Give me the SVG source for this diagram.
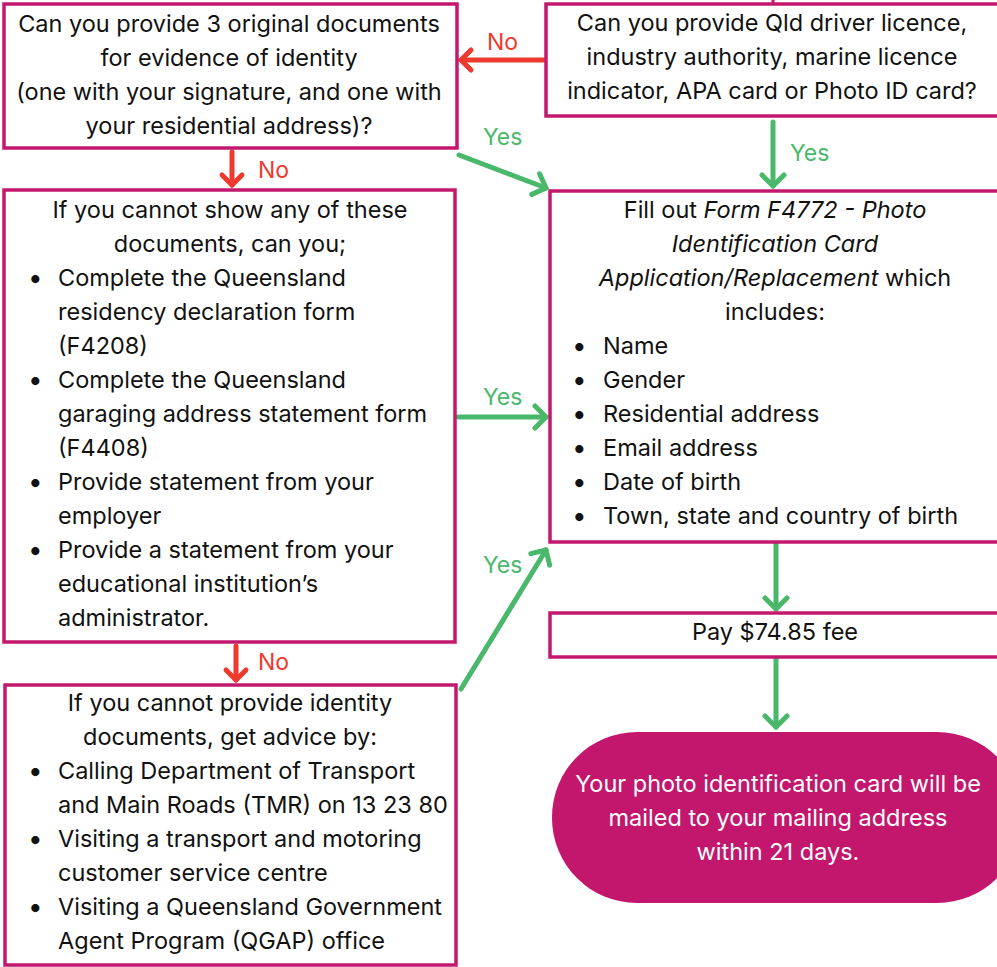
<svg xmlns="http://www.w3.org/2000/svg" width="997" height="967" viewBox="0 0 997 967">
<defs>
<style>
.box{fill:#fff;stroke:#C2186E;stroke-width:3.5}
.t{font-family:Inter,"Liberation Sans",sans-serif;font-size:23.5px;fill:#111}
.c{text-anchor:middle}
.w{fill:#fff}
.b{font-size:26px}
.no{font-family:Inter,"Liberation Sans",sans-serif;font-size:23px;fill:#EE3A2E}
.yes{font-family:Inter,"Liberation Sans",sans-serif;font-size:23px;fill:#49B86A}
.r{stroke:#EE3A2E;stroke-width:5;fill:none;stroke-linecap:round;stroke-linejoin:round}
.g{stroke:#49B86A;stroke-width:5;fill:none;stroke-linecap:round;stroke-linejoin:round}
.i{font-style:italic}
</style>
<marker id="hr" markerUnits="userSpaceOnUse" viewBox="-14 -14 28 28" markerWidth="28" markerHeight="28" refX="0" refY="0" orient="auto"><path d="M-10,-10 L0,0 L-10,10" fill="none" stroke="#EE3A2E" stroke-width="5" stroke-linecap="round" stroke-linejoin="round"/></marker>
<marker id="hg" markerUnits="userSpaceOnUse" viewBox="-14 -14 28 28" markerWidth="28" markerHeight="28" refX="0" refY="0" orient="auto"><path d="M-11,-11 L0,0 L-11,11" fill="none" stroke="#49B86A" stroke-width="5" stroke-linecap="round" stroke-linejoin="round"/></marker>
</defs>
<rect width="997" height="967" fill="#fff"/>
<line x1="773" y1="0" x2="773" y2="4" stroke="#C2186E" stroke-width="3"/>

<g id="connectors">
<line class="r" x1="545" y1="60" x2="461" y2="60" marker-end="url(#hr)"/>
<line class="r" x1="232" y1="152" x2="232" y2="185" marker-end="url(#hr)"/>
<line class="r" x1="236" y1="646" x2="236" y2="680" marker-end="url(#hr)"/>
<line class="g" x1="459" y1="155" x2="546" y2="188" marker-end="url(#hg)"/>
<line class="g" x1="773" y1="122" x2="773" y2="186" marker-end="url(#hg)"/>
<line class="g" x1="458" y1="417" x2="546" y2="417" marker-end="url(#hg)"/>
<line class="g" x1="461" y1="689" x2="546" y2="550" marker-end="url(#hg)"/>
<line class="g" x1="776" y1="544" x2="776" y2="609" marker-end="url(#hg)"/>
<line class="g" x1="776" y1="659" x2="776" y2="727" marker-end="url(#hg)"/>
<text class="no" x="487" y="50">No</text>
<text class="no" x="258" y="178">No</text>
<text class="no" x="258" y="670">No</text>
<text class="yes" x="483" y="145">Yes</text>
<text class="yes" x="790" y="161">Yes</text>
<text class="yes" x="483" y="405">Yes</text>
<text class="yes" x="483" y="573">Yes</text>
</g>

<g id="q-documents">
<rect class="box" x="4" y="4" width="453" height="144"/>
<text class="t c" x="229" y="32">Can you provide 3 original documents</text>
<text class="t c" x="229" y="66">for evidence of identity</text>
<text class="t c" x="229" y="100">(one with your signature, and one with</text>
<text class="t c" x="229" y="134">your residential address)?</text>
</g>

<g id="q-licence">
<rect class="box" x="546" y="4" width="460" height="112"/>
<text class="t c" x="772" y="31">Can you provide Qld driver licence,</text>
<text class="t c" x="772" y="65">industry authority, marine licence</text>
<text class="t c" x="772" y="99">indicator, APA card or Photo ID card?</text>
</g>

<g id="q-alternatives">
<rect class="box" x="4" y="190" width="451" height="452"/>
<text class="t c" x="230" y="218">If you cannot show any of these</text>
<text class="t c" x="230" y="252">documents, can you;</text>
<g class="t">
<text class="b" x="28" y="287">•</text><text x="58" y="286">Complete the Queensland</text>
<text x="58" y="320">residency declaration form</text>
<text x="58" y="354">(F4208)</text>
<text class="b" x="28" y="389">•</text><text x="58" y="388">Complete the Queensland</text>
<text x="58" y="422">garaging address statement form</text>
<text x="58" y="456">(F4408)</text>
<text class="b" x="28" y="491">•</text><text x="58" y="490">Provide statement from your</text>
<text x="58" y="524">employer</text>
<text class="b" x="28" y="559">•</text><text x="58" y="558">Provide a statement from your</text>
<text x="58" y="592">educational institution’s</text>
<text x="58" y="626">administrator.</text>
</g>
</g>

<g id="advice">
<rect class="box" x="5" y="685" width="451" height="280"/>
<text class="t c" x="230" y="711">If you cannot provide identity</text>
<text class="t c" x="230" y="745">documents, get advice by:</text>
<g class="t">
<text class="b" x="28" y="780">•</text><text x="58" y="779">Calling Department of Transport</text>
<text x="58" y="813">and Main Roads (TMR) on 13 23 80</text>
<text class="b" x="28" y="848">•</text><text x="58" y="847">Visiting a transport and motoring</text>
<text x="58" y="881">customer service centre</text>
<text class="b" x="28" y="916">•</text><text x="58" y="915">Visiting a Queensland Government</text>
<text x="58" y="949">Agent Program (QGAP) office</text>
</g>
</g>

<g id="fill-form">
<rect class="box" x="550" y="191" width="460" height="351"/>
<text class="t c" x="775" y="218">Fill out <tspan class="i">Form F4772 - Photo</tspan></text>
<text class="t c i" x="775" y="252">Identification Card</text>
<text class="t c" x="775" y="286"><tspan class="i">Application/Replacement</tspan> which</text>
<text class="t c" x="775" y="320">includes:</text>
<g class="t">
<text class="b" x="572" y="355">•</text><text x="603" y="354">Name</text>
<text class="b" x="572" y="389">•</text><text x="603" y="388">Gender</text>
<text class="b" x="572" y="423">•</text><text x="603" y="422">Residential address</text>
<text class="b" x="572" y="457">•</text><text x="603" y="456">Email address</text>
<text class="b" x="572" y="491">•</text><text x="603" y="490">Date of birth</text>
<text class="b" x="572" y="525">•</text><text x="603" y="524">Town, state and country of birth</text>
</g>
</g>

<g id="pay">
<rect class="box" x="550" y="613" width="460" height="44"/>
<text class="t c" x="775" y="640">Pay $74.85 fee</text>
</g>

<g id="result">
<rect x="552" y="732" width="470" height="171" rx="85" ry="85" fill="#C2176C"/>
<text class="t c w" x="778" y="792">Your photo identification card will be</text>
<text class="t c w" x="778" y="826">mailed to your mailing address</text>
<text class="t c w" x="778" y="860">within 21 days.</text>
</g>
</svg>
